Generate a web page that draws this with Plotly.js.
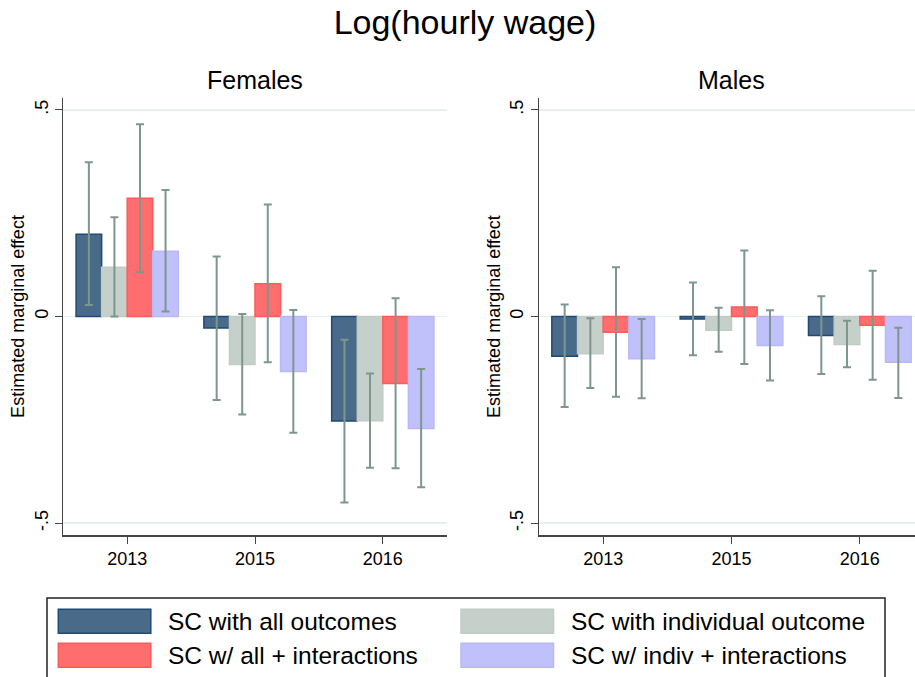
<!DOCTYPE html>
<html>
<head>
<meta charset="utf-8">
<script src="https://cdn.plot.ly/plotly-3.0.1.min.js"></script>
<style>
  html, body { margin: 0; padding: 0; background: #fff; }
  #chart { width: 915px; height: 677px; }
</style>
</head>
<body>
<div id="chart"></div>
<script>
// Categories and series
const years = ['2013', '2015', '2016'];
const seriesNames = [
  'SC with all outcomes',
  'SC with individual outcome',
  'SC w/ all + interactions',
  'SC w/ indiv + interactions',
];

// Females: point estimates and 95% CI bounds (one array per series)
const femAll = [0.199, -0.028, -0.253];
const femAllLo = [0.028, -0.202, -0.450];
const femAllHi = [0.373, 0.145, -0.056];
const femInd = [0.119, -0.116, -0.252];
const femIndLo = [0.000, -0.237, -0.366];
const femIndHi = [0.240, 0.006, -0.138];
const femAllInt = [0.286, 0.079, -0.162];
const femAllIntLo = [0.107, -0.111, -0.367];
const femAllIntHi = [0.465, 0.271, 0.044];
const femIndInt = [0.158, -0.133, -0.271];
const femIndIntLo = [0.012, -0.281, -0.413];
const femIndIntHi = [0.306, 0.016, -0.127];

// Males
const malAll = [-0.096, -0.006, -0.046];
const malAllLo = [-0.219, -0.094, -0.139];
const malAllHi = [0.029, 0.082, 0.049];
const malInd = [-0.090, -0.033, -0.068];
const malIndLo = [-0.173, -0.085, -0.123];
const malIndHi = [-0.004, 0.021, -0.010];
const malAllInt = [-0.038, 0.023, -0.021];
const malAllIntLo = [-0.194, -0.115, -0.153];
const malAllIntHi = [0.119, 0.160, 0.111];
const malIndInt = [-0.102, -0.070, -0.111];
const malIndIntLo = [-0.198, -0.155, -0.197];
const malIndIntHi = [-0.006, 0.015, -0.027];

const yTickVals = [-0.5, 0, 0.5];
const yTickText = ['-.5', '0', '.5'];

// Stata-ish look
const fills = ['#4a6a8a', '#c4d0c9', '#ff6e6e', '#c0c0fb'];
const edges = ['#1f4a73', '#c0ccc5', '#ff5a5a', '#b8b8f6'];
const ciColor = '#7d978c';
const FONT = 'Arial, "Liberation Sans", sans-serif';

const W = 915, H = 677;
const px = v => v / W;          // horizontal pixel -> paper
const py = v => 1 - v / H;      // vertical pixel -> paper

function barTrace(name, i, vals, lo, hi, xa, ya) {
  return {
    type: 'bar',
    name,
    x: years,
    y: vals,
    xaxis: xa,
    yaxis: ya,
    showlegend: false,
    marker: { color: fills[i], line: { color: edges[i], width: 1.5 } },
    error_y: {
      type: 'data',
      symmetric: false,
      array: hi.map((h, k) => h - vals[k]),
      arrayminus: vals.map((v, k) => v - lo[k]),
      color: ciColor,
      thickness: 2,
      width: 4,
    },
    hoverinfo: 'skip',
  };
}

const traces = [
  barTrace(seriesNames[0], 0, femAll, femAllLo, femAllHi, 'x', 'y'),
  barTrace(seriesNames[1], 1, femInd, femIndLo, femIndHi, 'x', 'y'),
  barTrace(seriesNames[2], 2, femAllInt, femAllIntLo, femAllIntHi, 'x', 'y'),
  barTrace(seriesNames[3], 3, femIndInt, femIndIntLo, femIndIntHi, 'x', 'y'),
  barTrace(seriesNames[0], 0, malAll, malAllLo, malAllHi, 'x2', 'y2'),
  barTrace(seriesNames[1], 1, malInd, malIndLo, malIndHi, 'x2', 'y2'),
  barTrace(seriesNames[2], 2, malAllInt, malAllIntLo, malAllIntHi, 'x2', 'y2'),
  barTrace(seriesNames[3], 3, malIndInt, malIndIntLo, malIndIntHi, 'x2', 'y2'),
];

const yDom = [py(535), py(98)];
const yRange = [-0.5287, 0.5287];

function yAxis(anchor) {
  return {
    anchor,
    domain: yDom,
    range: yRange,
    tickvals: yTickVals,
    ticktext: yTickText,
    tickangle: -90,
    ticks: 'outside',
    ticklen: 7,
    tickcolor: '#444',
    tickfont: { size: 18, color: '#000' },
    showline: true,
    linecolor: '#444',
    linewidth: 1.5,
    showgrid: true,
    gridcolor: '#e6eff2',
    gridwidth: 1.5,
    zeroline: true,
    zerolinecolor: '#e6eff2',
    zerolinewidth: 1.5,
    title: { text: 'Estimated marginal effect', font: { size: 18, color: '#000' }, standoff: 2 },
    fixedrange: true,
  };
}

function xAxis(anchor, dom, range) {
  return {
    anchor,
    domain: dom,
    type: 'category',
    range,
    ticks: 'outside',
    ticklen: 7,
    tickcolor: '#444',
    tickfont: { size: 18, color: '#000' },
    showline: true,
    linecolor: '#444',
    linewidth: 1.5,
    showgrid: false,
    zeroline: false,
    fixedrange: true,
  };
}

// Legend drawn as a Stata-style boxed key
const legendShapes = [];
const legendNotes = [];
const keyCols = [58.3, 461];
const keyRows = [609.3, 643.3];
seriesNames.forEach((name, i) => {
  const c = keyCols[i % 2], r = keyRows[Math.floor(i / 2)];
  legendShapes.push({
    type: 'rect', xref: 'paper', yref: 'paper',
    x0: px(c), x1: px(c + 92.5), y0: py(r), y1: py(r + 24),
    fillcolor: fills[i], line: { color: edges[i], width: 1.5 },
  });
  legendNotes.push({
    xref: 'paper', yref: 'paper', x: px(c + 108), y: py(r + 12.5),
    xanchor: 'left', yanchor: 'middle', showarrow: false,
    text: name, font: { size: 24.5, color: '#000' },
  });
});
legendShapes.push({
  type: 'rect', xref: 'paper', yref: 'paper',
  x0: px(47), x1: px(885), y0: py(598), y1: py(690),
  fillcolor: 'rgba(0,0,0,0)', line: { color: '#222', width: 1.5 },
});

const layout = {
  width: W,
  height: H,
  margin: { l: 0, r: 0, t: 0, b: 0 },
  paper_bgcolor: '#fff',
  plot_bgcolor: '#fff',
  font: { family: FONT, color: '#000' },
  barmode: 'group',
  bargap: 0.2,
  bargroupgap: 0,
  showlegend: false,
  title: {
    text: 'Log(hourly wage)',
    x: px(465), xanchor: 'center',
    y: py(22), yanchor: 'middle',
    font: { size: 34, color: '#000' },
  },
  xaxis: xAxis('y', [px(63.3), px(446.7)], [-0.5, 2.5]),
  yaxis: yAxis('x'),
  xaxis2: xAxis('y2', [px(539), 1], [-0.5, 2.43]),
  yaxis2: yAxis('x2'),
  shapes: legendShapes,
  annotations: [
    { xref: 'paper', yref: 'paper', x: px(255), y: py(80), xanchor: 'center', yanchor: 'middle',
      showarrow: false, text: 'Females', font: { size: 25, color: '#000' } },
    { xref: 'paper', yref: 'paper', x: px(731), y: py(80), xanchor: 'center', yanchor: 'middle',
      showarrow: false, text: 'Males', font: { size: 25, color: '#000' } },
  ].concat(legendNotes),
};

Plotly.newPlot('chart', traces, layout, { displayModeBar: false, staticPlot: true });
</script>
</body>
</html>
